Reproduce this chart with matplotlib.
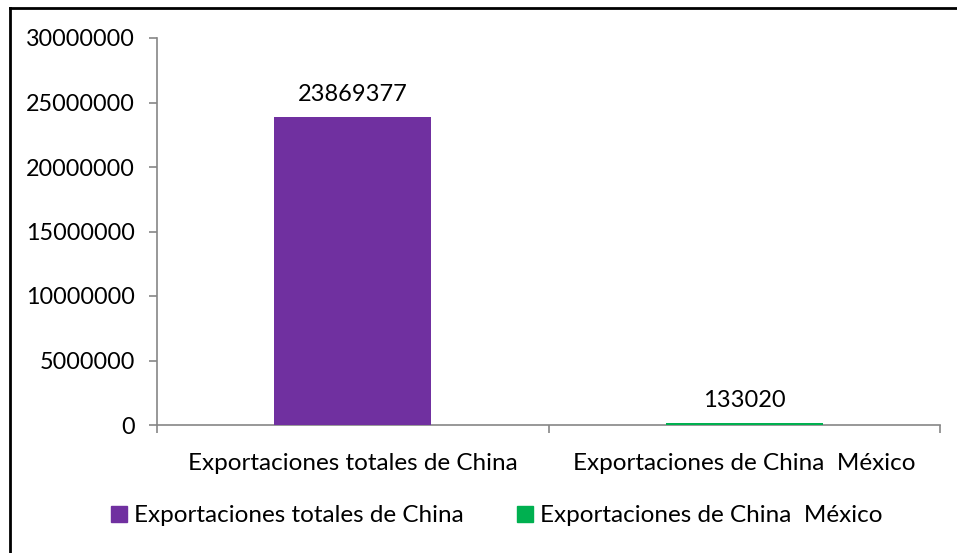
import matplotlib.pyplot as plt
from matplotlib.patches import Rectangle
from matplotlib.lines import Line2D

plt.rcParams['font.family'] = ['Lato', 'DejaVu Sans']

categories = ['Exportaciones totales de China', 'Exportaciones de China  México']
values = [23869377, 133020]
colors = ['#7030A0', '#00B050']
yticks = [0, 5000000, 10000000, 15000000, 20000000, 25000000, 30000000]

fig = plt.figure(figsize=(9.57, 5.53), dpi=100)
ax = fig.add_axes([157 / 957, 1 - 425 / 553, (940 - 157) / 957, (425 - 38) / 553])

x = list(range(len(categories)))
bars = ax.bar(x, values, width=0.4, color=colors, label=categories, zorder=3)

ax.set_xlim(-0.5, len(categories) - 0.5)
ax.set_ylim(0, 30000000)
ax.set_yticks(yticks)
ax.set_yticklabels([str(v) for v in yticks], fontsize=16.8)

ax.set_xticks(x)
ax.set_xticklabels(categories, fontsize=17.5)
ax.tick_params(axis='x', which='major', length=0, pad=20)
ax.set_xticks([i - 0.5 for i in range(len(categories) + 1)], minor=True)
ax.tick_params(axis='x', which='minor', length=6, color='#868686', width=1.2)
ax.tick_params(axis='y', length=6, color='#868686', width=1.2, pad=10)

for s in ['top', 'right']:
    ax.spines[s].set_visible(False)
for s in ['left', 'bottom']:
    ax.spines[s].set_color('#868686')
    ax.spines[s].set_linewidth(1.2)

for b, v in zip(bars, values):
    ax.annotate(str(v), (b.get_x() + b.get_width() / 2, v), xytext=(0, 9),
                textcoords='offset points', ha='center', va='bottom', fontsize=17)

fig.legend(handles=[Rectangle((0, 0), 1, 1, color=c) for c in colors], labels=categories,
           loc='center', bbox_to_anchor=(497 / 957, 1 - 516 / 553), ncol=2, frameon=False,
           fontsize=17.5, handlelength=0.65, handleheight=0.65, handletextpad=0.3, columnspacing=2.2)

# outer frame: only top and left edges fall inside the picture
left = 10 / 957
top = 1 - 8 / 553
fig.lines.append(Line2D([left, 1.0], [top, top], transform=fig.transFigure, color='black', linewidth=2))
fig.lines.append(Line2D([left, left], [0, top], transform=fig.transFigure, color='black', linewidth=2))

fig.savefig('out.png', dpi=100)
